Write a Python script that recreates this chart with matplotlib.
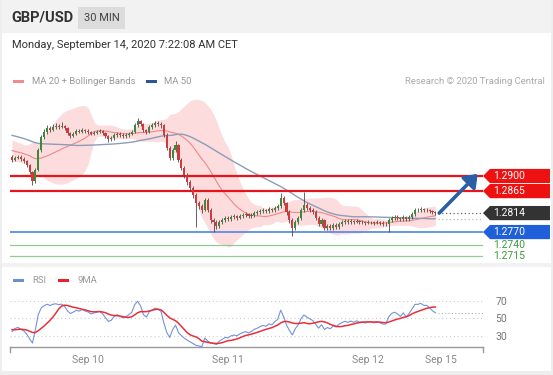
import numpy as np
import pandas as pd
import matplotlib
matplotlib.use("Agg")
import matplotlib.pyplot as plt
from matplotlib.patches import Rectangle, Polygon
from matplotlib.transforms import blended_transform_factory

plt.rcParams['font.family'] = ['Roboto', 'DejaVu Sans']

# ---------------- data ----------------
prior_closes = [1.3022, 1.3030, 1.3036, 1.3028, 1.3033, 1.3040, 1.3031, 1.3025, 1.3029, 1.3034,
                1.3030, 1.3021, 1.3026, 1.3018, 1.3027, 1.3032, 1.3024, 1.3019, 1.3028, 1.3023,
                1.3030, 1.3022, 1.3017,
                1.3008, 1.2998, 1.2990, 1.2995, 1.2986, 1.2992, 1.2983, 1.2978, 1.2985, 1.2976,
                1.2970, 1.2979, 1.2968, 1.2962, 1.2970, 1.2965, 1.2958, 1.2963, 1.2955, 1.2960,
                1.2952, 1.2948, 1.2955, 1.2946, 1.2950, 1.2941, 1.2945]

closes = [1.2937, 1.2942, 1.2944, 1.2939, 1.2935, 1.2926, 1.2909, 1.2888, 1.2914, 1.2960,
          1.2990, 1.3002, 1.3011, 1.3007, 1.3014, 1.3016, 1.3014, 1.3016, 1.3011, 1.3000,
          1.2993, 1.2998, 1.3004, 1.3002, 1.3007, 1.3004, 1.3002, 1.2998, 1.3000, 1.3002,
          1.3004, 1.3000, 1.2993, 1.2986, 1.2988, 1.2995, 1.2998, 1.2995, 1.2993, 1.2995,
          1.2998, 1.3002, 1.3018, 1.3027, 1.3021, 1.3007, 1.3002, 1.3014, 1.3018, 1.3023,
          1.3021, 1.3018, 1.2995, 1.2965, 1.2942, 1.2960, 1.2972, 1.2937, 1.2919, 1.2902,
          1.2886, 1.2872, 1.2856, 1.2837, 1.2830, 1.2821, 1.2844, 1.2821, 1.2798, 1.2793,
          1.2784, 1.2793, 1.2798, 1.2803, 1.2800, 1.2805, 1.2807, 1.2803, 1.2807, 1.2810,
          1.2812, 1.2807, 1.2810, 1.2814, 1.2816, 1.2819, 1.2821, 1.2819, 1.2823, 1.2821,
          1.2826, 1.2830, 1.2849, 1.2837, 1.2816, 1.2798, 1.2779, 1.2793, 1.2803, 1.2821,
          1.2833, 1.2826, 1.2821, 1.2816, 1.2803, 1.2789, 1.2798, 1.2779, 1.2784, 1.2779,
          1.2786, 1.2782, 1.2789, 1.2793, 1.2796, 1.2793, 1.2796, 1.2793, 1.2796, 1.2793,
          1.2793, 1.2791, 1.2793, 1.2793, 1.2791, 1.2793, 1.2791, 1.2789, 1.2789, 1.2798,
          1.2803, 1.2805, 1.2803, 1.2800, 1.2805, 1.2800, 1.2805, 1.2812, 1.2821, 1.2821,
          1.2823, 1.2821, 1.2821, 1.2819, 1.2816, 1.2814]

highs = [1.2949, 1.2946, 1.2949, 1.2948, 1.2943, 1.2938, 1.2929, 1.2912, 1.2918, 1.2965,
         1.2996, 1.3010, 1.3018, 1.3016, 1.3020, 1.3022, 1.3021, 1.3026, 1.3019, 1.3014,
         1.3003, 1.3002, 1.3008, 1.3009, 1.3011, 1.3010, 1.3008, 1.3005, 1.3004, 1.3006,
         1.3008, 1.3007, 1.3003, 1.2996, 1.2992, 1.2999, 1.3002, 1.3001, 1.2999, 1.2999,
         1.3002, 1.3007, 1.3024, 1.3034, 1.3031, 1.3024, 1.3010, 1.3018, 1.3022, 1.3027,
         1.3028, 1.3026, 1.3021, 1.2999, 1.2970, 1.2965, 1.2982, 1.2975, 1.2941, 1.2924,
         1.2906, 1.2890, 1.2876, 1.2860, 1.2842, 1.2834, 1.2849, 1.2848, 1.2825, 1.2803,
         1.2797, 1.2797, 1.2802, 1.2807, 1.2807, 1.2809, 1.2811, 1.2810, 1.2811, 1.2814,
         1.2817, 1.2815, 1.2814, 1.2818, 1.2820, 1.2823, 1.2825, 1.2824, 1.2827, 1.2826,
         1.2830, 1.2835, 1.2861, 1.2853, 1.2840, 1.2820, 1.2802, 1.2797, 1.2807, 1.2826,
         1.2863, 1.2837, 1.2830, 1.2825, 1.2820, 1.2807, 1.2803, 1.2801, 1.2788, 1.2788,
         1.2790, 1.2790, 1.2793, 1.2797, 1.2800, 1.2800, 1.2800, 1.2799, 1.2800, 1.2799,
         1.2797, 1.2796, 1.2797, 1.2796, 1.2796, 1.2797, 1.2796, 1.2795, 1.2793, 1.2802,
         1.2807, 1.2809, 1.2809, 1.2806, 1.2809, 1.2808, 1.2809, 1.2816, 1.2826, 1.2825,
         1.2827, 1.2826, 1.2825, 1.2824, 1.2822, 1.2819]

lows = [1.2933, 1.2934, 1.2939, 1.2935, 1.2931, 1.2922, 1.2904, 1.2880, 1.2884, 1.2911,
        1.2956, 1.2985, 1.2998, 1.3003, 1.3004, 1.3010, 1.3010, 1.3011, 1.3007, 1.2996,
        1.2988, 1.2990, 1.2995, 1.2999, 1.2999, 1.3000, 1.2998, 1.2994, 1.2995, 1.2997,
        1.2999, 1.2996, 1.2989, 1.2980, 1.2981, 1.2984, 1.2991, 1.2991, 1.2989, 1.2989,
        1.2991, 1.2994, 1.2999, 1.3014, 1.3016, 1.3003, 1.2997, 1.2999, 1.3010, 1.3014,
        1.3017, 1.3012, 1.2990, 1.2960, 1.2937, 1.2938, 1.2955, 1.2932, 1.2913, 1.2896,
        1.2880, 1.2866, 1.2850, 1.2782, 1.2824, 1.2815, 1.2818, 1.2816, 1.2792, 1.2771,
        1.2778, 1.2780, 1.2789, 1.2794, 1.2796, 1.2796, 1.2801, 1.2799, 1.2800, 1.2803,
        1.2806, 1.2803, 1.2803, 1.2806, 1.2810, 1.2812, 1.2815, 1.2814, 1.2815, 1.2816,
        1.2817, 1.2822, 1.2826, 1.2832, 1.2810, 1.2792, 1.2761, 1.2775, 1.2789, 1.2799,
        1.2817, 1.2821, 1.2816, 1.2811, 1.2798, 1.2783, 1.2785, 1.2774, 1.2775, 1.2774,
        1.2775, 1.2777, 1.2778, 1.2785, 1.2789, 1.2789, 1.2789, 1.2789, 1.2790, 1.2789,
        1.2789, 1.2787, 1.2788, 1.2789, 1.2787, 1.2788, 1.2787, 1.2785, 1.2784, 1.2770,
        1.2794, 1.2799, 1.2798, 1.2796, 1.2796, 1.2795, 1.2796, 1.2801, 1.2808, 1.2816,
        1.2817, 1.2817, 1.2817, 1.2815, 1.2812, 1.2810]

resistance_levels = [1.2900, 1.2865]
pivot_level = 1.2770
support_levels = [1.2740, 1.2715]
target_level = 1.2905
tick_pos = [26, 74, 122, 147]
tick_labels = ['Sep 10', 'Sep 11', 'Sep 12', 'Sep 15']
rsi_levels = [30, 50, 70]

# ---------------- indicators ----------------
n0 = len(prior_closes)
allc = pd.Series(prior_closes + closes)
ma20 = allc.rolling(20).mean()
sd20 = allc.rolling(20).std(ddof=0)
upper = (ma20 + 2 * sd20).values[n0:]
lower = (ma20 - 2 * sd20).values[n0:]
ma20v = ma20.values[n0:]
ma50v = allc.rolling(50).mean().values[n0:]
delta = allc.diff()
gain = delta.clip(lower=0)
loss = -delta.clip(upper=0)
ag = gain.ewm(alpha=1 / 14, adjust=False).mean()
al = loss.ewm(alpha=1 / 14, adjust=False).mean()
rsi = 100 - 100 / (1 + ag / al)
rsi9 = rsi.rolling(9).mean()
rsiv = rsi.values[n0:]
rsi9v = rsi9.values[n0:]

opens = [prior_closes[-1]] + closes[:-1]
idx = np.arange(len(closes))

# ---------------- figure ----------------
W, H = 553, 375
fig = plt.figure(figsize=(W / 100, H / 100), dpi=100)
fig.patch.set_facecolor('white')


def frect(x, y, w, h):
    return (x / W, 1 - (y + h) / H, w / W, h / H)


def add_bg(x, y, w, h, color):
    l, b, ww, hh = frect(x, y, w, h)
    fig.add_artist(Rectangle((l, b), ww, hh, transform=fig.transFigure,
                             facecolor=color, edgecolor='none', zorder=0))


add_bg(0, 0, W, 33, '#f2f2f2')
add_bg(0, 263, W, 4, '#f2f2f2')
add_bg(0, 371, W, 4, '#eeeeee')
add_bg(0, 0, 2, H, '#eeeeee')
add_bg(W - 2, 0, 2, H, '#eeeeee')
add_bg(78, 7, 47, 22, '#dcdcdc')


def ftext(x, y, s, **kw):
    fig.text(x / W, 1 - y / H, s, **kw)


ftext(11, 18, 'GBP/USD', fontsize=10.5, fontweight='bold', color='#333333', va='center')
ftext(101.5, 18, '30 MIN', fontsize=8, color='#444444', va='center', ha='center')
ftext(12, 45, 'Monday, September 14, 2020 7:22:08 AM CET', fontsize=8, color='#333333', va='center')

# legends
add_bg(13, 79.5, 11, 3.5, '#f28b8b')
ftext(32, 81.5, 'MA 20 + Bollinger Bands', fontsize=6.8, color='#999999', va='center')
add_bg(146, 79.5, 11, 3.5, '#2b5797')
ftext(164, 81.5, 'MA 50', fontsize=6.8, color='#999999', va='center')
ftext(545, 81.5, 'Research \u00a9 2020 Trading Central', fontsize=6.8, color='#aaaaaa',
      va='center', ha='right')
add_bg(13, 278.5, 11, 3.5, '#6b8fd6')
ftext(32, 280.5, 'RSI', fontsize=6.8, color='#999999', va='center')
add_bg(58, 278.5, 11, 3.5, '#e8202a')
ftext(77, 280.5, '9MA', fontsize=6.8, color='#999999', va='center')

# ---------------- main panel ----------------
ax = fig.add_axes(frect(10, 93, 473, 169))
ax.set_xlim(-0.7, 161.3)
ax.set_ylim(1.27005, 1.30926)
ax.axis('off')

ax.fill_between(idx, lower, upper, color='#fcdcdc', lw=0, zorder=1)
ax.plot(idx, ma20v, color='#f08888', lw=0.8, zorder=2)
ax.plot(idx, ma50v, color='#8c9cba', lw=1.0, zorder=2)

for y in support_levels:
    ax.axhline(y, color='#94c894', lw=0.9, zorder=2)
ax.axhline(pivot_level, color='#5b8ee6', lw=1.3, zorder=2)
for y in resistance_levels:
    ax.axhline(y, color='#e8141c', lw=1.6, zorder=2)

ups = np.array(closes) >= np.array(opens)
colors = np.where(ups, '#3a8a3a', '#d2383c')
ax.vlines(idx, lows, highs, colors='#4a4a4a', lw=0.6, zorder=3)
bottoms = np.minimum(opens, closes)
heights = np.maximum(np.abs(np.array(closes) - np.array(opens)), 0.00006)
ax.bar(idx, heights, bottom=bottoms, width=0.72, color=colors, edgecolor='none', zorder=4)

last_i = idx[-1]
ax.plot([last_i + 1, 161.3], [closes[-1]] * 2, color='#666666', lw=0.9, ls=(0, (1, 2)), zorder=2)
ax.plot([last_i + 1, 161.3], [ma50v[-1]] * 2, color='#bbbbbb', lw=0.9, ls=(0, (1, 2)), zorder=2)

ax.annotate('', xy=(159.5, target_level), xytext=(last_i + 1.3, closes[-1]),
            arrowprops=dict(arrowstyle='-|>,head_length=0.6,head_width=0.45',
                            color='#2c5ea6', lw=2.6, mutation_scale=12, shrinkA=0, shrinkB=0),
            zorder=6)

tr = blended_transform_factory(ax.transAxes, ax.transData)
hh = 0.00165
x0, x1, x2 = 1.0, 1.0148, 1.1416
tags = [(resistance_levels[0], '#ee1111'), (resistance_levels[1], '#ee1111'),
        (closes[-1], '#333333'), (pivot_level, '#1f5fd9')]
for y, col in tags:
    poly = Polygon([(x0, y), (x1, y + hh), (x2, y + hh), (x2, y - hh), (x1, y - hh)],
                   closed=True, transform=tr, facecolor=col, edgecolor='none',
                   clip_on=False, zorder=7)
    ax.add_patch(poly)
    ax.text(1.021, y, f'{y:.4f}', transform=tr, color='white', fontsize=7.5,
            va='center', ha='left', clip_on=False, zorder=8)
for y in support_levels:
    ax.text(1.021, y, f'{y:.4f}', transform=tr, color='#3d9a3d', fontsize=7.5,
            va='center', ha='left', clip_on=False, zorder=8)

# ---------------- RSI panel ----------------
ax2 = fig.add_axes(frect(10, 290, 473, 57))
ax2.set_xlim(-0.7, 161.3)
ax2.set_ylim(17.1, 82.2)
for s in ['top', 'left', 'right']:
    ax2.spines[s].set_visible(False)
ax2.spines['bottom'].set_color('#999999')
ax2.spines['bottom'].set_linewidth(1.0)
for lv in rsi_levels:
    ax2.axhline(lv, color='#cccccc', lw=0.8, ls=(0, (1, 2.5)), zorder=1)
ax2.plot(idx, rsiv, color='#7393dc', lw=0.8, zorder=3)
ax2.plot(idx, rsi9v, color='#e8303a', lw=1.1, zorder=4)
ax2.plot([last_i + 1, 161.3], [rsiv[-1]] * 2, color='#aaaaaa', lw=0.8, ls=(0, (1, 2)), zorder=2)
ax2.set_xticks(tick_pos)
ax2.set_xticklabels(tick_labels)
ax2.tick_params(axis='x', length=0, pad=6, labelsize=7.5, labelcolor='#888888')
ax2.yaxis.tick_right()
ax2.set_yticks(rsi_levels)
ax2.set_yticklabels([str(v) for v in rsi_levels])
ax2.tick_params(axis='y', length=0, pad=9, labelsize=7.5, labelcolor='#777777')
for xe in (0.0, 1.0):
    ax2.plot([xe, xe], [0, -0.08], transform=ax2.transAxes, color='#999999', lw=1.0,
             clip_on=False)

fig.savefig('out.png', dpi=100, facecolor='white')
